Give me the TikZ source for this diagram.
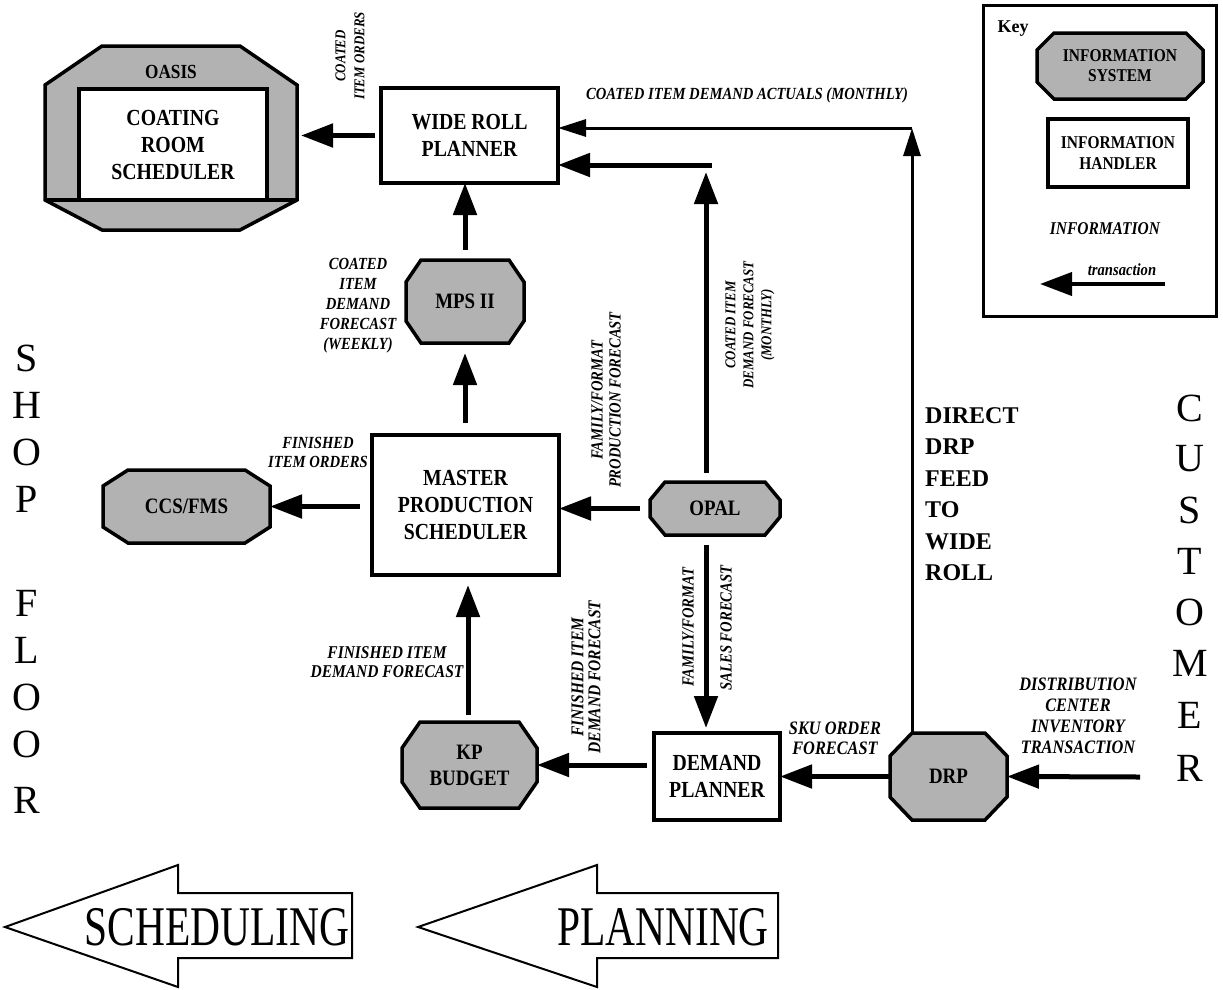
\documentclass[tikz,border=0pt]{standalone}
\usepackage{fontspec}
\setmainfont{Liberation Serif}
\newfontfamily\narrow[FakeStretch=0.86]{Liberation Serif}
\newfontfamily\slim[FakeStretch=0.74]{Liberation Serif}
\usetikzlibrary{arrows.meta,calc}
\pgfdeclarelayer{back}
\pgfsetlayers{back,main}

% chamfered outline around a node: name, x chamfer, y chamfer
\newcommand\octagon[3]{%
  \filldraw[octfill] ($(#1.north west)+(#2,0)$) -- ($(#1.north east)+(-#2,0)$)
    -- ($(#1.north east)+(0,#3)$) -- ($(#1.south east)+(0,-#3)$)
    -- ($(#1.south east)+(-#2,0)$) -- ($(#1.south west)+(#2,0)$)
    -- ($(#1.south west)+(0,-#3)$) -- ($(#1.north west)+(0,#3)$) -- cycle;}

\begin{document}
\begin{tikzpicture}[x=1pt,y=-1pt,
  handler/.style={draw,line width=3.5pt,fill=white,align=center,inner sep=0pt,outer sep=0pt,
    font=\narrow\bfseries\fontsize{23}{27}\selectfont},
  system/.style={align=center,inner sep=0pt,outer sep=0pt,
    font=\narrow\bfseries\fontsize{22}{26}\selectfont},
  octfill/.style={draw,line width=3.5pt,fill=black!30,line join=miter},
  flowlabel/.style={align=center,inner sep=0pt},
  lsize/.style n args={2}{font=\narrow\bfseries\itshape\fontsize{#1}{#2}\selectfont},
  feed/.style={line width=5pt,-{Triangle[length=32pt,width=23pt]}},
  thinfeed/.style={line width=3pt,-{Triangle[length=28pt,width=17pt]}},
  bigletter/.style={inner sep=0pt,font=\fontsize{40}{40}\selectfont},
  bigarrow/.style={draw,line width=2pt,line join=miter},
]
\useasboundingbox (0,0) rectangle (1223,989);

% ---------- information handlers ----------
\node[handler,minimum width=177pt,minimum height=95pt] (wrp) at (469.5,135.5) {WIDE ROLL\\PLANNER};
\node[handler,minimum width=187pt,minimum height=140pt] (mps) at (465.5,505) {MASTER\\PRODUCTION\\SCHEDULER};
\node[handler,minimum width=126pt,minimum height=87pt] (dp) at (717,776.5) {DEMAND\\PLANNER};

% ---------- information systems ----------
\node[minimum width=252pt,minimum height=184pt,inner sep=0pt,outer sep=0pt] (oasis) at (171,138) {};
\node[system,font=\narrow\bfseries\fontsize{20}{22}\selectfont] (oasisname) at (171,72) {OASIS};
\node[system,minimum width=118pt,minimum height=83pt] (mps2) at (465,301.5) {MPS II};
\node[system,minimum width=167pt,minimum height=73pt] (ccs) at (186.5,506.5) {CCS/FMS};
\node[system,minimum width=130pt,minimum height=53pt] (opal) at (715,508.5) {OPAL};
\node[system,minimum width=135pt,minimum height=86pt] (kp) at (469.5,765) {KP\\BUDGET};
\node[system,minimum width=117pt,minimum height=87pt] (drp) at (948.5,776.5) {DRP};

\begin{pgfonlayer}{back}
  % OASIS outline: deeper chamfer at the top than at the bottom
  \filldraw[octfill] ($(oasis.north west)+(57,0)$) -- ($(oasis.north east)+(-57,0)$)
    -- ($(oasis.north east)+(0,39)$) -- ($(oasis.south east)+(0,-30)$)
    -- ($(oasis.south east)+(-57,0)$) -- ($(oasis.south west)+(57,0)$)
    -- ($(oasis.south west)+(0,-30)$) -- ($(oasis.north west)+(0,39)$) -- cycle;
  \octagon{mps2}{15}{22}
  \octagon{ccs}{25}{16}
  \octagon{opal}{15}{18}
  \octagon{kp}{18}{26}
  \octagon{drp}{22}{23}
\end{pgfonlayer}

\node[handler,minimum width=188pt,minimum height=111pt] (crs) at (173,144.5) {COATING\\ROOM\\SCHEDULER};
\draw[line width=3.5pt] ($(oasis.south west)+(0,-30)$) -- ($(oasis.south east)+(0,-30)$);

% ---------- connectors ----------
\coordinate (acttop) at (912,128);
\coordinate (fcttop) at (712,165);
\coordinate (opalup) at (706,172);
\coordinate (opaldn) at (706,640);
\coordinate (kpup) at (468,650);
\coordinate (dcin) at (1140,777);

\draw[feed,shorten <=6pt,shorten >=4pt] (wrp.west) -- (wrp.west -| oasis.east);
\draw[thinfeed] (drp.north -| acttop) -- (acttop);
\draw[thinfeed] (acttop) -- (acttop -| wrp.east);
\draw[feed] (fcttop) -- (fcttop -| wrp.east);
\draw[feed,shorten <=9pt] (opal.north -| opalup) -- (opalup);
\draw[feed,shorten <=10pt] (mps2.north) -- (mps2.north |- wrp.south);
\draw[feed,shorten <=12pt,shorten >=10pt] (mps.north -| mps2.south) -- (mps2.south);
\draw[feed,shorten <=12pt] (mps.west |- ccs.east) -- (ccs.east);
\draw[feed,shorten <=10pt] (opal.west) -- (opal.west -| mps.east);
\draw[feed,shorten <=10pt,shorten >=5pt] (opal.south -| opaldn) -- (dp.north -| opaldn);
\draw[feed,shorten <=7pt,shorten >=10pt] (kp.north -| kpup) -- (mps.south -| kpup);
\draw[feed,shorten <=7pt] (kp.east -| dp.west) -- (kp.east);
\draw[feed] (drp.west) -- (dp.east);
\draw[feed] (dcin) -- (drp.east);

% ---------- transaction labels ----------
\node[flowlabel,lsize={15}{19},rotate=90] (l1) at (350,56) {COATED\\ITEM ORDERS};
\node[flowlabel,lsize={17}{20}] (l2) at (747,95) {COATED ITEM DEMAND ACTUALS (MONTHLY)};
\node[flowlabel,lsize={17}{20}] (l3) at (358,306) {COATED\\ITEM\\DEMAND\\FORECAST\\(WEEKLY)};
\node[flowlabel,lsize={17}{18},rotate=90] (l4) at (606,400) {FAMILY/FORMAT\\PRODUCTION FORECAST};
\node[flowlabel,lsize={15}{18},rotate=90] (l5) at (750,325) {COATED ITEM\\DEMAND FORECAST\\(MONTHLY)};
\node[flowlabel,lsize={17}{20},rotate=90] (l6a) at (688,627) {FAMILY/FORMAT};
\node[flowlabel,lsize={17}{20},rotate=90] (l6b) at (726,628) {SALES FORECAST};
\node[flowlabel,lsize={18}{17},rotate=90] (l7) at (586,677) {FINISHED ITEM\\DEMAND FORECAST};
\node[flowlabel,lsize={18}{19}] (l8) at (387,662) {FINISHED ITEM\\DEMAND FORECAST};
\node[flowlabel,lsize={17}{19}] (l9) at (318,452) {FINISHED\\ITEM ORDERS};
\node[flowlabel,lsize={19}{20}] (l10) at (835,738) {SKU ORDER\\FORECAST};
\node[flowlabel,lsize={19}{21}] (l11) at (1078,716) {DISTRIBUTION\\CENTER\\INVENTORY\\TRANSACTION};

\node[align=left,anchor=west,inner sep=0pt,font=\bfseries\fontsize{24}{31.5}\selectfont] (direct) at (925,494)
  {DIRECT\\DRP\\FEED\\TO\\WIDE\\ROLL};

% ---------- side captions ----------
\foreach \l/\yy [count=\i] in {S/358,H/405,O/452,P/499,F/603,L/650,O/697,O/744,R/800}
  \node[bigletter] (shop\i) at (27,\yy) {\l};
\foreach \l/\yy [count=\i] in {C/408,U/459,S/510,T/561,O/612,M/663,E/715,R/768}
  \node[bigletter] (cust\i) at (1190,\yy) {\l};

% ---------- direction arrows ----------
\draw[bigarrow] (5,927) -- (178,865) -- (178,893) -- (352,893) -- (352,958) -- (178,958) -- (178,987) -- cycle;
\node[inner sep=0pt,font=\slim\fontsize{56}{56}\selectfont] (sched) at (217,927) {SCHEDULING};
\draw[bigarrow] (418,927) -- (597,865) -- (597,893) -- (778,893) -- (778,958) -- (597,958) -- (597,987) -- cycle;
\node[inner sep=0pt,font=\slim\fontsize{56}{56}\selectfont] (plan) at (663,927) {PLANNING};

% ---------- key ----------
\node[draw,line width=3pt,minimum width=233pt,minimum height=311pt,inner sep=0pt] (keybox) at (1099.5,160.5) {};
\node[inner sep=0pt,font=\bfseries\fontsize{18}{20}\selectfont] (keyword) at (1013,29) {Key};
\node[system,font=\narrow\bfseries\fontsize{18}{20}\selectfont,minimum width=166pt,minimum height=66pt] (kis) at (1120,66) {INFORMATION\\SYSTEM};
\begin{pgfonlayer}{back}
  \octagon{kis}{17}{17}
\end{pgfonlayer}
\node[handler,font=\narrow\bfseries\fontsize{18}{21}\selectfont,minimum width=140pt,minimum height=68pt] (kih) at (1118,153) {INFORMATION\\HANDLER};
\node[flowlabel,lsize={18}{20}] (kinfo) at (1105,229) {INFORMATION};
\node[flowlabel,lsize={17}{19}] (ktrans) at (1122,270) {transaction};
\coordinate (ktail) at (1165,284);
\coordinate (khead) at (1040,284);
\draw[feed,line width=4pt] (ktail) -- (khead);
\end{tikzpicture}
\end{document}
